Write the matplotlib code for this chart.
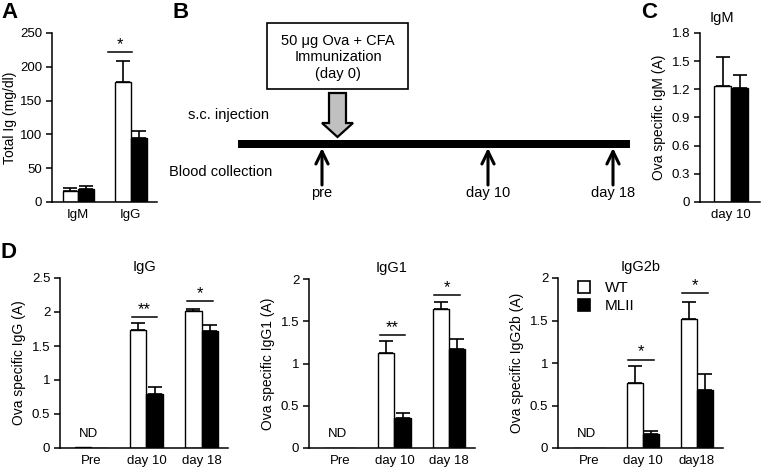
import matplotlib
matplotlib.use('Agg')
import matplotlib.pyplot as plt
from matplotlib.patches import Rectangle, Polygon, Patch
from matplotlib.ticker import FuncFormatter
import numpy as np

plt.rcParams['font.family'] = ['Liberation Sans', 'DejaVu Sans']

# ---- data ----
# A: total Ig
total_cats = ['IgM', 'IgG']
total_wt = [17, 177]
total_wt_sem = [3.5, 31]
total_ml = [19.5, 94]
total_ml_sem = [3.5, 11]

# C: Ova specific IgM at day 10
igm_cats = ['day 10']
igm_wt = [1.24]
igm_wt_sem = [0.30]
igm_ml = [1.21]
igm_ml_sem = [0.14]

# D: Ova specific IgG subclasses
d_cats = [['Pre', 'day 10', 'day 18'],
          ['Pre', 'day 10', 'day 18'],
          ['Pre', 'day 10', 'day18']]
d_titles = ['IgG', 'IgG1', 'IgG2b']
d_ylabels = ['Ova specific IgG (A)', 'Ova specific IgG1 (A)', 'Ova specific IgG2b (A)']
igg_wt = [0.01, 1.74, 2.01]
igg_wt_sem = [0, 0.10, 0.03]
igg_ml = [0, 0.79, 1.72]
igg_ml_sem = [0, 0.11, 0.09]
igg1_wt = [0, 1.12, 1.64]
igg1_wt_sem = [0, 0.15, 0.09]
igg1_ml = [0, 0.35, 1.17]
igg1_ml_sem = [0, 0.06, 0.12]
igg2b_wt = [0, 0.77, 1.52]
igg2b_wt_sem = [0, 0.19, 0.20]
igg2b_ml = [0, 0.17, 0.68]
igg2b_ml_sem = [0, 0.03, 0.19]

# significance: (category index, height, label)
sig_total = [(1, 222, '*')]
sig_igg = [(1, 1.93, '**'), (2, 2.16, '*')]
sig_igg1 = [(1, 1.34, '**'), (2, 1.81, '*')]
sig_igg2b = [(1, 1.04, '*'), (2, 1.82, '*')]

# B: schematic
box_lines = ['50 \u03bcg Ova + CFA', 'Immunization', '(day 0)']
collect_labels = ['pre', 'day 10', 'day 18']

W, H = 761, 472
fig = plt.figure(figsize=(W / 100, H / 100), dpi=100)


def px_axes(x0, y0, x1, y1):
    return fig.add_axes([x0 / W, 1 - y1 / H, (x1 - x0) / W, (y1 - y0) / H])


def style(ax, ymax, step, cats):
    for s in ['top', 'right']:
        ax.spines[s].set_visible(False)
    for s in ['left', 'bottom']:
        ax.spines[s].set_linewidth(1.1)
    ax.set_ylim(0, ymax)
    ax.set_yticks(np.arange(0, ymax + step / 2, step))
    ax.yaxis.set_major_formatter(FuncFormatter(lambda v, p: '%g' % round(v, 2)))
    ax.set_xticks(range(len(cats)))
    ax.set_xticklabels(cats)
    ax.tick_params(axis='y', direction='out', length=4, width=1.1, labelsize=9.5, pad=3)
    ax.tick_params(axis='x', length=0, labelsize=9.5, pad=5)


def bars(ax, wt, wt_sem, ml, ml_sem, w=0.3):
    x = np.arange(len(wt))
    for off, vals, sem, col in [(-w / 2, wt, wt_sem, 'white'), (w / 2, ml, ml_sem, 'black')]:
        ax.bar(x + off, vals, width=w, color=col, edgecolor='black', linewidth=1.0, zorder=2)
        keep = [i for i in range(len(vals)) if sem[i] > 0]
        ax.errorbar(x[keep] + off, np.array(vals)[keep],
                    yerr=[np.zeros(len(keep)), np.array(sem)[keep]],
                    fmt='none', ecolor='black', elinewidth=1.2, capsize=5, capthick=1.2, zorder=1)


def sig(ax, items, left=0.27, right=0.2):
    for i, y, lab in items:
        ax.plot([i - left, i + right], [y, y], color='black', lw=1.1, clip_on=False)
        ax.text(i - (left - right) / 2, y, lab, ha='center', va='bottom', fontsize=12)


# ---- B: schematic in pixel coordinates ----
axb = fig.add_axes([0, 0, 1, 1])
axb.set_xlim(0, W)
axb.set_ylim(H, 0)
axb.axis('off')
axb.add_patch(Rectangle((267, 23), 141, 66, facecolor='white', edgecolor='black', lw=1.2))
for k, line in enumerate(box_lines):
    axb.text(338, [41, 57, 74][k], line, ha='center', va='center', fontsize=10.5)
axb.add_patch(Polygon([(329, 93), (346, 93), (346, 123), (353, 123), (337.5, 137),
                       (322, 123), (329, 123)], closed=True,
                      facecolor='#c0c0c0', edgecolor='black', lw=1.6))
axb.add_patch(Rectangle((238, 140), 392, 8, facecolor='black', edgecolor='none'))
axb.text(228, 115, 's.c. injection', ha='center', va='center', fontsize=10.5)
axb.text(221, 172, 'Blood collection', ha='center', va='center', fontsize=10.5)
for xa, lab in zip([322, 488, 613], collect_labels):
    axb.annotate('', xy=(xa, 148), xytext=(xa, 185),
                 arrowprops=dict(arrowstyle='->,head_length=0.45,head_width=0.22',
                                 lw=2.2, color='black', mutation_scale=20,
                                 shrinkA=0, shrinkB=0))
    axb.text(xa, 193, lab, ha='center', va='center', fontsize=10.5)

# ---- A ----
axa = px_axes(52, 33, 157, 202)
bars(axa, total_wt, total_wt_sem, total_ml, total_ml_sem)
style(axa, 250, 50, total_cats)
axa.set_xlim(-0.5, 1.5)
axa.set_ylabel('Total Ig (mg/dl)', fontsize=10, labelpad=2)
sig(axa, sig_total, left=0.43, right=0.03)

# ---- C ----
axc = px_axes(700, 33, 760, 202)
bars(axc, igm_wt, igm_wt_sem, igm_ml, igm_ml_sem)
style(axc, 1.8, 0.3, igm_cats)
axc.set_xlim(-0.547, 0.51)
axc.set_ylabel('Ova specific IgM (A)', fontsize=10, labelpad=4)
axc.set_title('IgM', fontsize=10.5, x=(722 - 700) / 60, pad=8)

# ---- D ----
d_wt = [igg_wt, igg1_wt, igg2b_wt]
d_wt_sem = [igg_wt_sem, igg1_wt_sem, igg2b_wt_sem]
d_ml = [igg_ml, igg1_ml, igg2b_ml]
d_ml_sem = [igg_ml_sem, igg1_ml_sem, igg2b_ml_sem]
d_sig = [sig_igg, sig_igg1, sig_igg2b]
d_ymax = [2.5, 2, 2]
d_rects = [(60, 278, 228, 448), (309, 279, 475, 448), (558, 278, 723, 448)]

for k in range(3):
    ax = px_axes(*d_rects[k])
    bars(ax, d_wt[k], d_wt_sem[k], d_ml[k], d_ml_sem[k])
    style(ax, d_ymax[k], 0.5, d_cats[k])
    ax.set_xlim(-0.57, 2.48)
    ax.set_ylabel(d_ylabels[k], fontsize=10, labelpad=4)
    ax.set_title(d_titles[k], fontsize=10.5, pad=5)
    sig(ax, d_sig[k])
    ax.annotate('ND', xy=(-0.05, 0), xytext=(0, 6), textcoords='offset points',
                ha='center', va='bottom', fontsize=9.5)
    if k == 2:
        handles = [Patch(facecolor='white', edgecolor='black', lw=1.2, label='WT'),
                   Patch(facecolor='black', edgecolor='black', lw=1.2, label='MLII')]
        ax.legend(handles=handles, loc='upper left', bbox_to_anchor=(0.11, 0.99),
                  frameon=False, fontsize=11, handlelength=0.8, handleheight=0.8,
                  handletextpad=1.0, labelspacing=0.25, borderpad=0.1, borderaxespad=0)

# panel letters
for lab, x, y in [('A', 1, 12), ('B', 173, 12), ('C', 641, 12), ('D', 1, 253)]:
    fig.text(x / W, 1 - y / H, lab, fontsize=16, fontweight='bold', ha='left', va='center')

fig.savefig('out.png', dpi=100)
